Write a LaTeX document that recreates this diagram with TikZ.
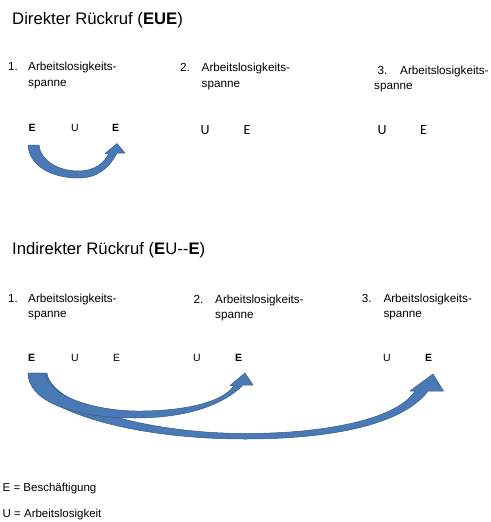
\documentclass[tikz,border=0pt]{standalone}
\usepackage{fontspec}
\setmainfont{Liberation Sans}
\newfontfamily\calfont{Carlito}
\definecolor{arrowfill}{RGB}{74,122,182}
\definecolor{arrowedge}{RGB}{52,88,135}
\begin{document}
\begin{tikzpicture}[x=1pt,y=-1pt,
  txt/.style={anchor=base west,inner sep=0pt,font=\fontsize{11.7}{14}\selectfont},
  ttl/.style={anchor=base west,inner sep=0pt,font=\fontsize{16.7}{20}\selectfont},
  lett/.style={anchor=base west,inner sep=0pt,font=\fontsize{10.5}{12}\selectfont},
  cal/.style={anchor=base west,inner sep=0pt,font=\calfont\fontsize{14}{16}\selectfont},
  leg/.style={anchor=base west,inner sep=0pt,font=\fontsize{11.5}{14}\selectfont},
  bandarrow/.style={fill=arrowfill,draw=arrowedge,line width=0.5pt,line join=round}]
\useasboundingbox (0,0) rectangle (490,522);

% ---------- Section 1: direct recall ----------
\node[ttl] (t1) at (12,24) {Direkter Rückruf (\textbf{EUE})};

\node[txt] (n11) at (8,70.5) {1.};
\node[txt] (a11) at (28,70.5) {Arbeitslosigkeits-};
\node[txt] (s11) at (28,86.5) {spanne};

\node[txt] (n12) at (180,71) {2.};
\node[txt] (a12) at (201.5,71) {Arbeitslosigkeits-};
\node[txt] (s12) at (201.5,87) {spanne};

\node[txt] (n13) at (377.5,74) {3.};
\node[txt] (a13) at (400,74) {Arbeitslosigkeits-};
\node[txt] (s13) at (374,89.5) {spanne};

\node[lett] (e11) at (28.3,131) {\textbf{E}};
\node[lett] (u11) at (71,131) {U};
\node[lett] (e12) at (112,131) {\textbf{E}};

\node[cal] (u12) at (200.5,134.5) {U};
\node[cal] (e13) at (243.3,134.5) {E};

\node[cal] (u13) at (377.5,134.5) {U};
\node[cal] (e14) at (420,134.5) {E};

\draw[bandarrow] (28,145) -- (39,145)
  .. controls (40,160) and (58,171) .. (78,171)
  .. controls (95,171) and (104,163) .. (109,153.5)
  -- (105,153.5) -- (117,143.5) -- (125,153) -- (117,153)
  .. controls (108,170) and (96,178) .. (78,178)
  .. controls (52,178) and (29,166) .. cycle;

% ---------- Section 2: indirect recall ----------
\node[ttl] (t2) at (12,254) {Indirekter Rückruf (\textbf{E}U{-}{-}\textbf{E})};

\node[txt] (n21) at (8,302) {1.};
\node[txt] (a21) at (28,302) {Arbeitslosigkeits-};
\node[txt] (s21) at (28,317) {spanne};

\node[txt] (n22) at (193.3,303) {2.};
\node[txt] (a22) at (215,303) {Arbeitslosigkeits-};
\node[txt] (s22) at (215,318) {spanne};

\node[txt] (n23) at (361.7,302) {3.};
\node[txt] (a23) at (383.3,302) {Arbeitslosigkeits-};
\node[txt] (s23) at (383.3,317) {spanne};

\node[lett] (e21) at (28,361) {\textbf{E}};
\node[lett] (u21) at (71,361) {U};
\node[lett] (e22) at (113,361) {E};
\node[lett] (u22) at (193,361.5) {U};
\node[lett] (e23) at (235,361.5) {\textbf{E}};
\node[lett] (u23) at (383,361) {U};
\node[lett] (e24) at (425,361) {\textbf{E}};

% long arrow (to 3rd span)
\draw[bandarrow] (28,373) -- (47,373)
  .. controls (50,402) and (135,433) .. (245,433.5)
  .. controls (330,433.5) and (398,418) .. (415,391)
  -- (410,391) -- (433,374) -- (443.5,391) -- (428,391)
  .. controls (400,428) and (320,439) .. (245,439)
  .. controls (125,439) and (30,408) .. cycle;

% short arrow (to 2nd span)
\draw[bandarrow] (28,373) -- (45,373)
  .. controls (48,395) and (90,410) .. (135,411)
  .. controls (178,411.5) and (222,404) .. (234,385.5)
  -- (230,385.5) -- (245,373) -- (253,385) -- (243,385)
  .. controls (218,410) and (175,418) .. (135,418)
  .. controls (70,418) and (28,400) .. cycle;

% ---------- Legend ----------
\node[leg] (l1) at (2.5,491) {E = Beschäftigung};
\node[leg] (l2) at (2.5,517) {U = Arbeitslosigkeit};
\end{tikzpicture}
\end{document}
